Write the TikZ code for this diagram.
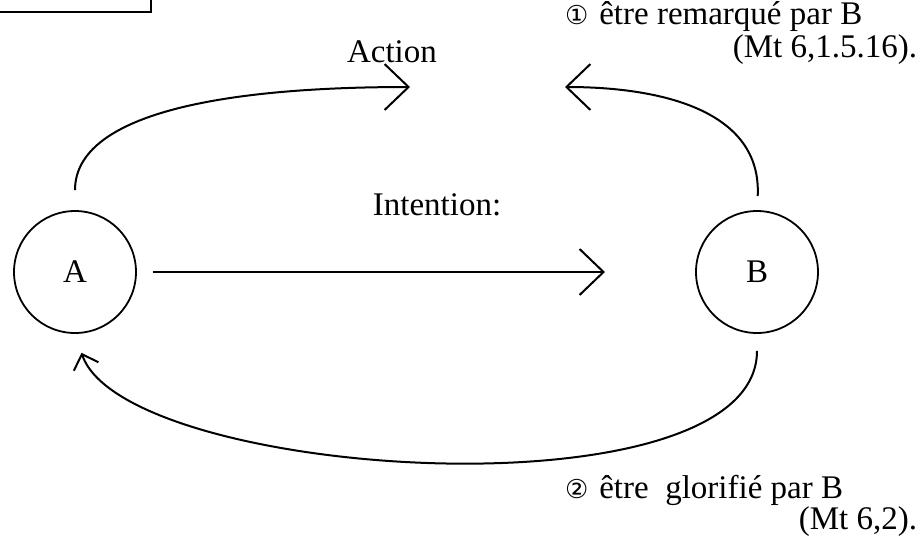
\documentclass[tikz,border=0pt]{standalone}
\usepackage{fontspec}
\setmainfont{Liberation Serif}
\newfontfamily\symfont{DejaVu Sans}
\usetikzlibrary{arrows.meta}

\begin{document}
\begin{tikzpicture}[x=0.5pt,y=-0.5pt,->,>={Straight Barb[length=12pt,width=23pt]},line width=1pt,
        every node/.style={font=\fontsize{16.5}{19}\selectfont},
        person/.style={circle,draw,line width=0.9pt,minimum size=61pt,inner sep=0pt},
        small tip/.style={>={Straight Barb[length=6.5pt,width=13pt]}},
        note/.style={inner sep=0pt}]
            \useasboundingbox (0,0) rectangle (922,548);

            \draw[-] (0,12) -| (151,0);

            \node[person] (A) at (75,272) {A};
            \node[person] (B) [right of=A, node distance=341pt] {B};

            \coordinate (actL) at (410,87);
            \coordinate (actR) at (565,87);
            \coordinate (intT) at (605,272);

            \node (Action) at (392,52) {Action};
            \node (Intention) at (437,205) {Intention:};

            \node[note,anchor=west] (Remark) at (564,17) {{\symfont\fontsize{13}{14}\selectfont ①}\hspace{5.5pt}être remarqué par B};
            \node[note,anchor=east] (RemarkRef) at (918,50) {(Mt 6,1.5.16).};
            \node[note,anchor=west] (Glory) at (564,490) {{\symfont\fontsize{13}{14}\selectfont ②}\hspace{5.5pt}être~ glorifié par B};
            \node[note,anchor=east] (GloryRef) at (918,522) {(Mt 6,2).};

            \draw[shorten <=10pt] (A.north) .. controls (75,120) and (200,87) .. (actL);
            \draw[shorten <=7pt] (B.north) .. controls (762,110) and (660,87) .. (actR);
            \draw[shorten <=8pt] (A) -- (intT);
            \draw[small tip,shorten <=8.5pt,shorten >=10pt] (B.south) .. controls (757,520) and (125,480) .. (A.south);
        \end{tikzpicture}
\end{document}
